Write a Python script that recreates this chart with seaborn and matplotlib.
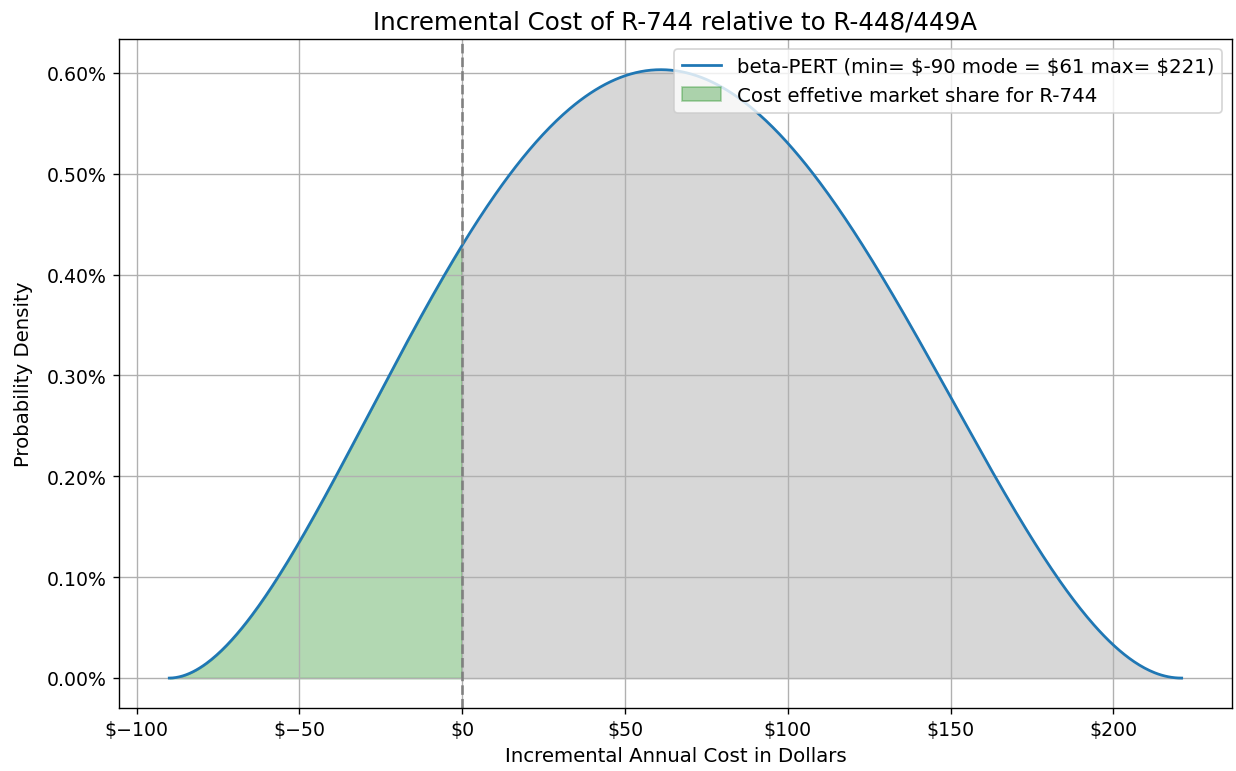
import math

import numpy as np
import pandas as pd
import matplotlib
matplotlib.use("Agg")
import matplotlib.pyplot as plt
import seaborn as sns
from matplotlib.ticker import FuncFormatter, PercentFormatter

# beta-PERT parameters for the incremental annual cost (dollars)
pert_min = -90
pert_mode = 61
pert_max = 221
breakeven = 0

title = "Incremental Cost of R-744 relative to R-448/449A"
x_label = "Incremental Annual Cost in Dollars"
y_label = "Probability Density"
share_label = "Cost effetive market share for R-744"


def pert_pdf(x, lo, mode, hi, lam=4.0):
    """Density of the beta-PERT distribution on [lo, hi]."""
    span = hi - lo
    a = 1 + lam * (mode - lo) / span
    b = 1 + lam * (hi - mode) / span
    z = (x - lo) / span
    log_beta = math.lgamma(a) + math.lgamma(b) - math.lgamma(a + b)
    with np.errstate(divide="ignore"):
        dens = np.exp((a - 1) * np.log(z) + (b - 1) * np.log1p(-z) - log_beta) / span
    return np.nan_to_num(dens)


cost = np.linspace(pert_min, pert_max, 600)
df = pd.DataFrame({"cost": cost, "density": pert_pdf(cost, pert_min, pert_mode, pert_max)})

fig, ax = plt.subplots(figsize=(10, 6.245), dpi=123.6)
fig.subplots_adjust(left=0.096, right=0.997, top=0.948, bottom=0.081)

curve_label = (f"beta-PERT (min= \\${pert_min} mode = \\${pert_mode} "
               f"max= \\${pert_max})")
sns.lineplot(data=df, x="cost", y="density", ax=ax, color="#1f77b4",
             linewidth=1.6, label=curve_label)

left = df[df["cost"] <= breakeven]
right = df[df["cost"] >= breakeven]
ax.fill_between(right["cost"], right["density"], color="lightgray", alpha=0.9)
ax.fill_between(left["cost"], left["density"], color="green", alpha=0.3,
                label=share_label)
ax.axvline(breakeven, color="gray", linestyle="--", linewidth=1.5)

ax.grid(True)
ax.set_title(title, fontsize=14.3)
ax.set_xlabel(x_label, fontsize=11.5)
ax.set_ylabel(y_label, fontsize=11.5, labelpad=8)
ax.tick_params(labelsize=11)
ax.yaxis.set_major_formatter(PercentFormatter(xmax=1, decimals=2))
ax.xaxis.set_major_formatter(
    FuncFormatter(lambda v, _: "\\$" + f"{v:.0f}".replace("-", "\u2212")))
ax.legend(loc="upper right", fontsize=11.5)

fig.savefig("out.png", dpi=123.6)
